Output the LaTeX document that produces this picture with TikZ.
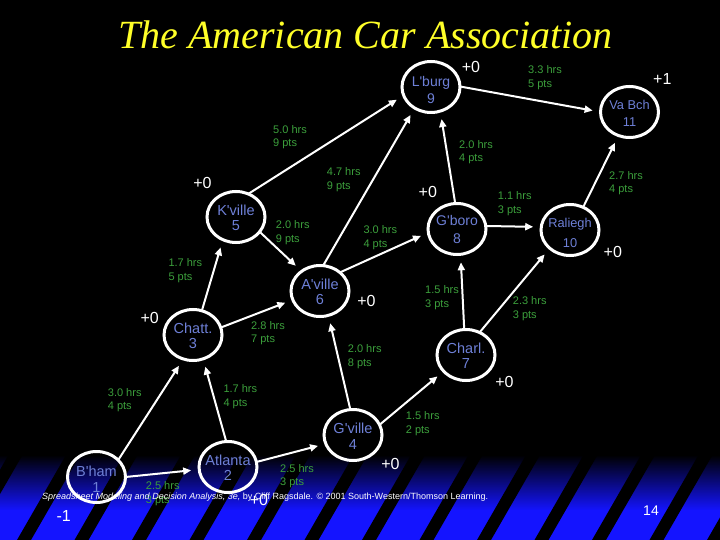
\documentclass[tikz,border=0pt]{standalone}
\usepackage{fontspec}
\newfontfamily\lsans{Liberation Sans}
\newfontfamily\lserif{Liberation Serif}
\usetikzlibrary{arrows.meta,shapes.geometric}
\definecolor{cityblue}{RGB}{110,128,215}
\definecolor{edgegreen}{RGB}{60,160,60}
\definecolor{titleyellow}{RGB}{255,255,40}
\definecolor{bandblue}{RGB}{20,20,255}
\begin{document}
\begin{tikzpicture}[x=1pt,y=-1pt,
  city/.style={draw=white,line width=3pt,ellipse,minimum width=58pt,minimum height=51pt,inner sep=0pt,outer sep=0pt},
  citytext/.style={text=cityblue,font=\lsans\fontsize{14}{15}\selectfont,align=center,inner sep=0pt},
  road/.style={draw=white,line width=2pt,-{Triangle[length=8pt,width=7pt]},shorten >=8pt},
  cost/.style={text=edgegreen,font=\lsans\fontsize{11}{13.3}\selectfont,align=left,anchor=west,inner sep=0pt},
  bonus/.style={text=white,font=\lsans\fontsize{16}{16}\selectfont,inner sep=0pt},
]
\fill[black] (0,0) rectangle (720,540);
\useasboundingbox (0,0) rectangle (720,540);
% bottom band
\shade[top color=black,bottom color=bandblue] (0,455) rectangle (720,510.5);
\fill[bandblue] (0,510) rectangle (720,540);
\begin{scope}
\clip (0,455) rectangle (720,540);
\foreach \k in {-2,...,12}{
  \fill[black] ({17+57.5*\k},540) -- ({31+57.5*\k},540) -- ({80+57.5*\k},455) -- ({66+57.5*\k},455) -- cycle;
}
\end{scope}
% title
\node[anchor=base,text=titleyellow,font=\lserif\itshape\fontsize{40}{40}\selectfont,inner sep=0pt] (title) at (365.5,48.3) {The American Car Association};
% cities
\node[city] (lburg) at (431,87) {};
\node[city] (vabch) at (629.5,112) {};
\node[city] (kville) at (236,217) {};
\node[city] (aville) at (320,291) {};
\node[city] (gboro) at (457,229) {};
\node[city] (chatt) at (193,335) {};
\node[city] (charl) at (466,355) {};
\node[city] (raliegh) at (570,230) {};
\node[city] (gville) at (353,435) {};
\node[city] (atlanta) at (228,467) {};
\node[city] (bham) at (96.5,477) {};
% city texts
\node[citytext,font=\lsans\fontsize{14}{17}\selectfont] (lburgt) at (431,90) {L'burg\\9};
\node[citytext,font=\lsans\fontsize{12.8}{17}\selectfont] (vabcht) at (629.5,113.3) {Va Bch\\11};
\node[citytext,font=\lsans\fontsize{14.5}{14.5}\selectfont] (kvillet) at (236,217.8) {K'ville\\5};
\node[citytext,font=\lsans\fontsize{14.5}{14.5}\selectfont] (avillet) at (320,292) {A'ville\\6};
\node[citytext,font=\lsans\fontsize{14}{17.5}\selectfont] (gborot) at (457,229.5) {G'boro\\8};
\node[citytext,font=\lsans\fontsize{14.5}{15}\selectfont] (chattt) at (193,335.5) {Chatt.\\3};
\node[citytext,font=\lsans\fontsize{14.5}{14.5}\selectfont] (charlt) at (466,355.5) {Charl.\\7};
\node[citytext,font=\lsans\fontsize{12.8}{20}\selectfont] (ralieght) at (570,233) {Raliegh\\10};
\node[citytext,font=\lsans\fontsize{14.5}{15.7}\selectfont] (gvillet) at (353,436) {G'ville\\4};
\node[citytext,font=\lsans\fontsize{14.5}{15}\selectfont] (atlantat) at (228,467.5) {Atlanta\\2};
\node[citytext,font=\lsans\fontsize{14.5}{15.6}\selectfont] (bhamt) at (96.5,479.5) {B'ham\\1};
% roads
\draw[road] (lburg.1) -- (vabch.180);
\draw[road] (kville.62) -- (lburg.197);
\draw[road] (aville.83) -- (lburg.232);
\draw[road] (gboro.94) -- (lburg.291);
\draw[road] (raliegh.60) -- (vabch.245);
\draw[road] (gboro.6) -- (raliegh.174);
\draw[road] (kville.328) -- (aville.133);
\draw[road] (aville.43) -- (gboro.187);
\draw[road] (chatt.70) -- (kville.240);
\draw[road] (chatt.15) -- (aville.198);
\draw[road] (charl.94) -- (gboro.278);
\draw[road] (charl.59) -- (raliegh.222);
\draw[road] (gville.96) -- (aville.289);
\draw[road] (gville.21) -- (charl.216);
\draw[road] (atlanta.94) -- (chatt.293);
\draw[road] (bham.38) -- (chatt.248);
\draw[road] (atlanta.10) -- (gville.198);
\draw[road] (bham.0) -- (atlanta.185);
% costs
\node[cost] (c1) at (528,77.7) {3.3 hrs\\5 pts};
\node[cost] (c2) at (273,137) {5.0 hrs\\9 pts};
\node[cost] (c3) at (459,152) {2.0 hrs\\4 pts};
\node[cost] (c4) at (326.7,179.7) {4.7 hrs\\9 pts};
\node[cost] (c5) at (609,183.3) {2.7 hrs\\4 pts};
\node[cost] (c6) at (497.7,203.7) {1.1 hrs\\3 pts};
\node[cost] (c7) at (275.7,232.7) {2.0 hrs\\9 pts};
\node[cost] (c8) at (363.3,237.7) {3.0 hrs\\4 pts};
\node[cost] (c9) at (168.3,270.8) {1.7 hrs\\5 pts};
\node[cost] (c10) at (425,297.7) {1.5 hrs\\3 pts};
\node[cost] (c11) at (512.7,308.7) {2.3 hrs\\3 pts};
\node[cost] (c12) at (251,333.3) {2.8 hrs\\7 pts};
\node[cost] (c13) at (347.7,356.7) {2.0 hrs\\8 pts};
\node[cost] (c14) at (223.3,396.7) {1.7 hrs\\4 pts};
\node[cost] (c15) at (107.7,400.3) {3.0 hrs\\4 pts};
\node[cost] (c16) at (405.7,423.7) {1.5 hrs\\2 pts};
\node[cost] (c17) at (280,476) {2.5 hrs\\3 pts};
\node[cost] (c18) at (145.7,493.7) {2.5 hrs\\3 pts};
% bonuses
\node[bonus] (b1) at (471,67.3) {+0};
\node[bonus] (b2) at (662.3,79.3) {+1};
\node[bonus] (b3) at (202.5,182.7) {+0};
\node[bonus] (b4) at (427.8,192.3) {+0};
\node[bonus] (b5) at (366.5,300.7) {+0};
\node[bonus] (b6) at (149.7,318.3) {+0};
\node[bonus] (b7) at (612.8,251.7) {+0};
\node[bonus] (b8) at (504.5,381.7) {+0};
\node[bonus] (b9) at (390.5,464) {+0};
\node[bonus] (b10) at (259,500) {+0};
\node[bonus] (b11) at (63.7,516) {-1};
% footer
\node[anchor=base west,text=white,font=\lsans\fontsize{9}{9}\selectfont,inner sep=0pt] (foot) at (42,499.5) {\itshape Spreadsheet Modeling and Decision Analysis, 3e, \upshape by Cliff Ragsdale. © 2001 South-Western/Thomson Learning.};
\node[text=white,font=\lsans\fontsize{14}{14}\selectfont,inner sep=0pt] (pg) at (651,510.3) {14};
\end{tikzpicture}
\end{document}
